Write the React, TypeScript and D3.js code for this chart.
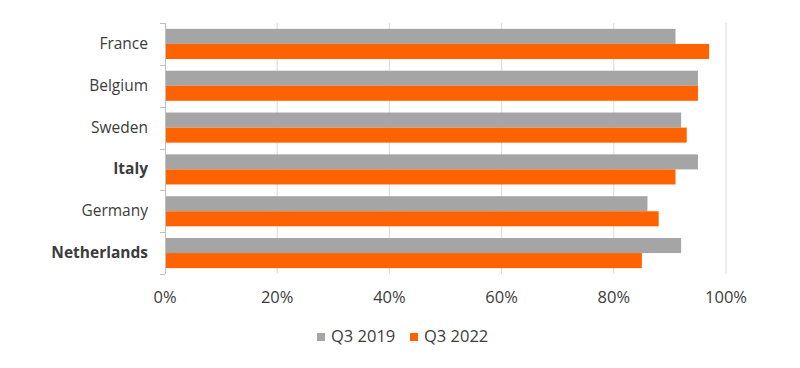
import React, { useEffect, useRef } from "react";
import * as d3 from "d3";

const countries = ["France", "Belgium", "Sweden", "Italy", "Germany", "Netherlands"];
const boldCountries = ["Italy", "Netherlands"];
const q3_2019 = [91, 95, 92, 95, 86, 92];
const q3_2022 = [97, 95, 93, 91, 88, 85];
const seriesNames = ["Q3 2019", "Q3 2022"];
const xTicks = [0, 20, 40, 60, 80, 100];

const width = 800;
const height = 368;
const margin = { top: 23, right: 74, bottom: 94, left: 165 };
const colors = ["#a5a5a5", "#ff6200"];
const font = "'Open Sans', 'Noto Sans', sans-serif";
const textColor = "#3c3c3c";

export default function App() {
  const ref = useRef<SVGSVGElement>(null);

  useEffect(() => {
    const svg = d3.select(ref.current);
    svg.selectAll("*").remove();

    const x = d3.scaleLinear().domain([0, 100]).range([margin.left, width - margin.right]);
    const y = d3
      .scaleBand()
      .domain(countries)
      .range([margin.top, height - margin.bottom])
      .paddingInner(0.28)
      .paddingOuter(0.14);
    const inner = d3.scaleBand().domain(seriesNames).range([0, y.bandwidth()]);

    // gridlines
    svg
      .append("g")
      .selectAll("line")
      .data(xTicks.slice(1))
      .join("line")
      .attr("x1", (d) => x(d))
      .attr("x2", (d) => x(d))
      .attr("y1", margin.top)
      .attr("y2", height - margin.bottom)
      .attr("stroke", "#d9d9d9")
      .attr("stroke-width", 1);

    // bars
    const series = [q3_2019, q3_2022];
    series.forEach((vals, i) => {
      svg
        .append("g")
        .selectAll("rect")
        .data(vals)
        .join("rect")
        .attr("x", x(0))
        .attr("y", (_, j) => (y(countries[j]) as number) + (inner(seriesNames[i]) as number))
        .attr("width", (d) => x(d) - x(0))
        .attr("height", inner.bandwidth())
        .attr("fill", colors[i]);
    });

    // y axis
    const yAxis = d3.axisLeft(y).tickSize(0).tickPadding(17);
    const gy = svg.append("g").attr("transform", `translate(${margin.left},0)`).call(yAxis);
    gy.select(".domain").remove();
    gy.selectAll("text")
      .attr("font-family", font)
      .attr("font-size", 15.5)
      .attr("fill", textColor)
      .attr("font-weight", (d: any) => (boldCountries.includes(d) ? 700 : 400));

    const step = y.step();
    const edges = countries.map((c) => (y(c) as number) - (step * 0.28) / 2);
    edges.push(height - margin.bottom);
    const axisG = svg.append("g").attr("stroke", "#bfbfbf").attr("stroke-width", 1);
    axisG
      .append("line")
      .attr("x1", margin.left + 0.5)
      .attr("x2", margin.left + 0.5)
      .attr("y1", margin.top)
      .attr("y2", height - margin.bottom);
    axisG
      .selectAll("line.tick")
      .data(edges)
      .join("line")
      .attr("class", "tick")
      .attr("x1", margin.left - 5)
      .attr("x2", margin.left)
      .attr("y1", (d) => Math.round(d) + 0.5)
      .attr("y2", (d) => Math.round(d) + 0.5);

    // x axis labels
    svg
      .append("g")
      .selectAll("text")
      .data(xTicks)
      .join("text")
      .attr("x", (d) => x(d))
      .attr("y", 303)
      .attr("text-anchor", "middle")
      .attr("font-family", font)
      .attr("font-size", 16.5)
      .attr("fill", textColor)
      .text((d) => `${d}%`);

    // legend
    const legend = svg.append("g").attr("transform", `translate(317, 342)`);
    const offsets = [0, 93];
    seriesNames.forEach((name, i) => {
      const g = legend.append("g").attr("transform", `translate(${offsets[i]},0)`);
      g.append("rect").attr("x", 0).attr("y", -9).attr("width", 8).attr("height", 8).attr("fill", colors[i]);
      g.append("text")
        .attr("x", 14)
        .attr("y", 0)
        .attr("font-family", font)
        .attr("font-size", 16.5)
        .attr("fill", textColor)
        .text(name);
    });
  }, []);

  return (
    <div style={{ position: "absolute", left: 0, top: 0 }}>
      <svg ref={ref} width={width} height={height} style={{ display: "block", background: "#fff" }} />
    </div>
  );
}
